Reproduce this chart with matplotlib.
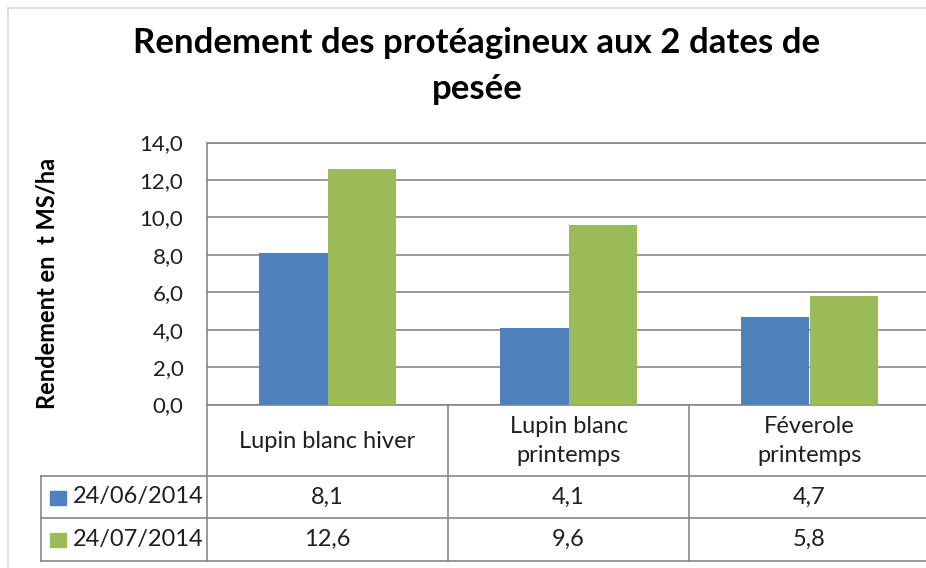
import matplotlib
matplotlib.use("Agg")
import matplotlib.pyplot as plt
from matplotlib.transforms import blended_transform_factory

# --- data ---
categories = ["Lupin blanc hiver", "Lupin blanc\nprintemps", "Féverole\nprintemps"]
series_names = ["24/06/2014", "24/07/2014"]
juin = [8.1, 4.1, 4.7]
juillet = [12.6, 9.6, 5.8]
colors = ["#4F81BD", "#9BBB59"]
y_ticks = [0, 2, 4, 6, 8, 10, 12, 14]
title_lines = ["Rendement des protéagineux aux 2 dates de", "pesée"]

plt.rcParams["font.family"] = ["Lato", "DejaVu Sans"]

W, H = 926, 568
fig = plt.figure(figsize=(W / 100, H / 100), dpi=100)

grid_col = "#878787"
text_col = "#1f1f1f"
fs_table = 17

# overlay in pixel coordinates for borders and the data table
ov = fig.add_axes([0, 0, 1, 1])
ov.set_xlim(0, W)
ov.set_ylim(H, 0)
ov.axis("off")

# plot area
top_px, bot_px, left_px, right_px = 142.5, 404.5, 207, 930
ax = fig.add_axes([left_px / W, 1 - bot_px / H, (right_px - left_px) / W, (bot_px - top_px) / H])

x = range(len(categories))
bw = 0.285
ax.bar([i - bw / 2 for i in x], juin, width=bw, color=colors[0], zorder=3)
ax.bar([i + bw / 2 for i in x], juillet, width=bw, color=colors[1], zorder=3)

ax.set_xlim(-0.5, len(categories) - 0.5)
ax.set_ylim(0, 14)
ax.set_yticks(y_ticks)
ax.set_yticklabels([f"{v:.1f}".replace(".", ",") for v in y_ticks], fontsize=16, color=text_col)
ax.set_xticks([])
ax.tick_params(axis="y", length=0, pad=17)
ax.yaxis.grid(True, color=grid_col, linewidth=1.2, zorder=0)
for s in ["left", "top", "bottom"]:
    ax.spines[s].set_color(grid_col)
    ax.spines[s].set_linewidth(1.2)
ax.spines["right"].set_visible(False)

ov.text(47, 283, "Rendement en  t MS/ha", rotation=90, ha="center", va="center",
        fontsize=17, fontweight="bold", color="black")

# title, two lines
for line, yb in zip(title_lines, [53, 99]):
    ov.text(477, yb, line, ha="center", va="baseline", fontsize=25, fontweight="bold", color="black")

# chart border (light)
ov.plot([7.5, 7.5], [7.5, H], color="#d9d9d9", lw=1.2)
ov.plot([7.5, W], [7.5, 7.5], color="#d9d9d9", lw=1.2)

# --- data table ---
tr = blended_transform_factory(ax.transData, ov.transData)
row_hdr, row1, row2 = 476, 518, 560.5
edges = [i - 0.5 for i in range(len(categories) + 1)]
lw = 1.2
for e in edges[:-1]:
    ax.plot([e, e], [bot_px, row2], color=grid_col, lw=lw, transform=tr, clip_on=False)
for y in [row_hdr, row1, row2]:
    ov.plot([40.5, W], [y, y], color=grid_col, lw=lw, clip_on=False)
ov.plot([40.5, 40.5], [row_hdr, row2], color=grid_col, lw=lw)

for i, cat in enumerate(categories):
    ax.text(i, (bot_px + row_hdr) / 2 + 1, cat, transform=tr, ha="center", va="center",
            fontsize=fs_table, color=text_col, linespacing=1.45, clip_on=False)
    for vals, yc in [(juin, (row_hdr + row1) / 2), (juillet, (row1 + row2) / 2)]:
        ax.text(i, yc, f"{vals[i]:.1f}".replace(".", ","), transform=tr, ha="center",
                va="center", fontsize=fs_table, color=text_col, clip_on=False)

for name, col, yc in zip(series_names, colors, [(row_hdr + row1) / 2, (row1 + row2) / 2]):
    ov.add_patch(plt.Rectangle((50, yc - 6), 16, 14, color=col))
    ov.text(73, yc, name, ha="left", va="center", fontsize=fs_table, color=text_col)

fig.savefig("out.png", dpi=100)
